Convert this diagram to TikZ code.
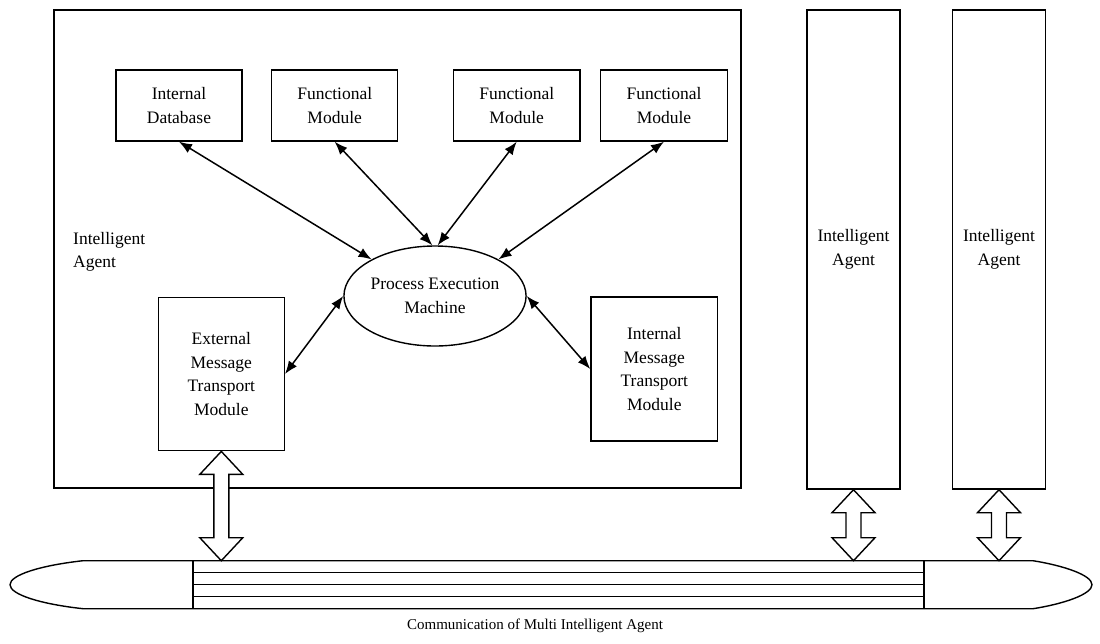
\documentclass[tikz,border=0pt]{standalone}
\usepackage{fontspec}
\setmainfont{Liberation Serif}
\usetikzlibrary{calc,arrows.meta,shapes.geometric}
\newcommand\dblarrow[2]{\draw[dbl] (#1) -- ++(21.5,23) -- ++(-14,0) -- ($(#2)+(7.5,-23)$) -- ++(14,0) -- (#2) -- ++(-21.5,-23) -- ++(14,0) -- ($(#1)+(-7.5,23)$) -- ++(-14,0) -- cycle;}
\begin{document}
\begin{tikzpicture}[x=1pt,y=-1pt,
  box/.style={draw, line width=1.4pt, inner sep=0pt, align=center, font=\fontsize{17.5}{23.5}\selectfont},
  link/.style={line width=1.5pt, {Latex[length=13pt,width=10pt]}-{Latex[length=13pt,width=10pt]}},
  dbl/.style={draw, line width=1.4pt, fill=white, line join=miter},
  lbl/.style={font=\fontsize{17.5}{23.5}\selectfont, align=center, inner sep=0pt},
  small/.style={font=\fontsize{15}{20}\selectfont, align=center, inner sep=0pt},
  busline/.style={line width=1.4pt},
]
\useasboundingbox (0,0) rectangle (1100,643);
% main agent frame
\node[box, minimum width=687, minimum height=478] (big) at (397.5,249) {};
\node[lbl, anchor=west, align=left] (side) at (73,252) {Intelligent\\Agent};
% other agents
\node[box, minimum width=93, minimum height=479] (ag1) at (853.5,249.5) {Intelligent\\Agent};
\node[box, minimum width=93, minimum height=479] (ag2) at (999,249.5) {Intelligent\\Agent};
% modules
\node[box, minimum width=126, minimum height=71] (db) at (179,105.5) {Internal\\Database};
\node[box, minimum width=126, minimum height=71] (f1) at (334.7,105.5) {Functional\\Module};
\node[box, minimum width=126.7, minimum height=71] (f2) at (516.7,105.5) {Functional\\Module};
\node[box, minimum width=126.7, minimum height=71] (f3) at (664,105.5) {Functional\\Module};
\node[box, ellipse, minimum width=175, minimum height=100] (pem) at (435,296) {Process Execution\\Machine};
\node[box, minimum width=126, minimum height=153.4] (ext) at (221.3,374) {External\\Message\\Transport\\Module};
\node[box, minimum width=126.7, minimum height=144] (imt) at (654.3,369) {Internal\\Message\\Transport\\Module};
% connectors
\draw[link] (db.south) -- (pem.150);
\draw[link] (f1.south) -- (pem.93);
\draw[link] (f2.south) -- (pem.87);
\draw[link] (f3.south) -- (pem.30);
\draw[link] (ext.east) -- (pem.west);
\draw[link] (pem.east) -- (imt.west);
% bus
\coordinate (bustop) at (0,560.7);
\draw[busline, fill=white] (83,560.7) -- (1033,560.7)
  .. controls (1063,565.5) and (1092,575) .. (1092,584.7)
  .. controls (1092,594.4) and (1063,604) .. (1033,608.7)
  -- (83,608.7)
  .. controls (40,604) and (10,594.4) .. (10,584.7)
  .. controls (10,575) and (40,565.5) .. (83,560.7) -- cycle;
\foreach \yy in {572.7,584.7,596.7} \draw[busline] (193,\yy) -- (924,\yy);
\draw[busline] (193,560.7) -- (193,608.7);
\draw[busline] (924,560.7) -- (924,608.7);
% double arrows
\coordinate (b0) at (ext.south |- bustop);
\coordinate (b1) at (ag1.south |- bustop);
\coordinate (b2) at (ag2.south |- bustop);
\dblarrow{ext.south}{b0}
\dblarrow{ag1.south}{b1}
\dblarrow{ag2.south}{b2}
\node[small] (cap) at (535,626) {Communication of Multi Intelligent Agent};
\end{tikzpicture}
\end{document}
